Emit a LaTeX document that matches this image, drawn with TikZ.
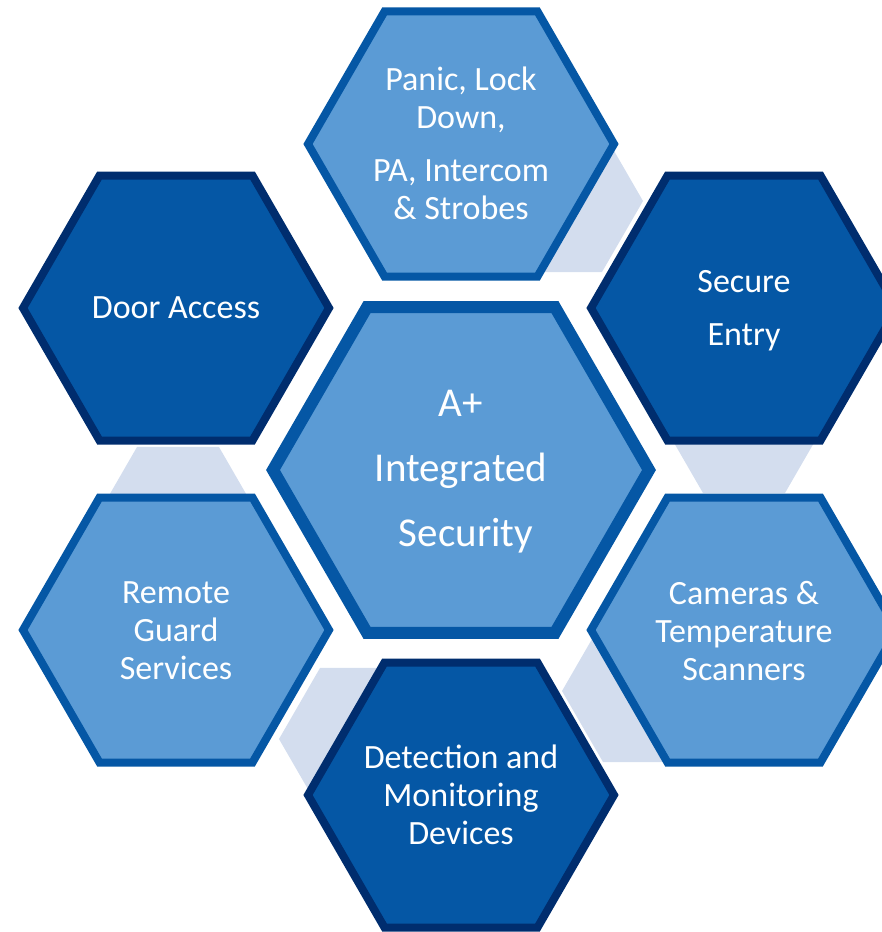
\documentclass[tikz,border=0pt]{standalone}
\usepackage{fontspec}
\setmainfont{Carlito}
\definecolor{lightfill}{HTML}{5B9BD5}
\definecolor{midblue}{HTML}{0557A5}
\definecolor{darkedge}{HTML}{002D6E}
\definecolor{grayhex}{HTML}{D3DDEE}
\tikzset{
  hexlight/.style={fill=lightfill, draw=midblue, line width=8pt, line join=miter},
  hexdark/.style={fill=midblue, draw=darkedge, line width=8pt, line join=miter},
  hexcenter/.style={fill=lightfill, draw=midblue, line width=12pt, line join=miter},
  hexgray/.style={fill=grayhex, draw=none},
  lbl/.style={text=white, align=center, inner sep=0pt, font=\fontsize{34}{38}\selectfont},
  lblbig/.style={text=white, align=center, inner sep=0pt, font=\fontsize{41}{65}\selectfont}
}
\begin{document}
\begin{tikzpicture}[x=1pt,y=-1pt]
\useasboundingbox (0,0) rectangle (882,932);
% named centres
\coordinate (cP) at (461,144);
\coordinate (cS) at (744,308);
\coordinate (cC) at (744,630);
\coordinate (cD) at (461,795);
\coordinate (cR) at (176,630);
\coordinate (cA) at (176,308);
\coordinate (cM) at (461,470);
% light connector hexagons
\foreach \p in {(561,201),(744,422),(644,691),(361,739),(178,518)}{
  \draw[hexgray] \p +(0:82) -- +(60:82) -- +(120:82) -- +(180:82) -- +(240:82) -- +(300:82) -- cycle;
}
% outer hexagons
\draw[hexlight] (cP) +(0:153) -- +(60:153) -- +(120:153) -- +(180:153) -- +(240:153) -- +(300:153) -- cycle;
\draw[hexdark]  (cS) +(0:153) -- +(60:153) -- +(120:153) -- +(180:153) -- +(240:153) -- +(300:153) -- cycle;
\draw[hexlight] (cC) +(0:153) -- +(60:153) -- +(120:153) -- +(180:153) -- +(240:153) -- +(300:153) -- cycle;
\draw[hexdark]  (cD) +(0:153) -- +(60:153) -- +(120:153) -- +(180:153) -- +(240:153) -- +(300:153) -- cycle;
\draw[hexlight] (cR) +(0:153) -- +(60:153) -- +(120:153) -- +(180:153) -- +(240:153) -- +(300:153) -- cycle;
\draw[hexdark]  (cA) +(0:153) -- +(60:153) -- +(120:153) -- +(180:153) -- +(240:153) -- +(300:153) -- cycle;
% centre hexagon
\draw[hexcenter] (cM) +(0:188) -- +(60:188) -- +(120:188) -- +(180:188) -- +(240:188) -- +(300:188) -- cycle;
% labels
\node[lbl] (panic) at (461,143) {Panic, Lock\\Down,\\[15pt]PA, Intercom\\\& Strobes};
\node[lbl] (secure) at (744,311) {Secure\\[15pt]Entry};
\node[lbl] (cameras) at (744,631) {Cameras \&\\Temperature\\Scanners};
\node[lbl] (detect) at (461,795) {Detection and\\Monitoring\\Devices};
\node[lbl] (remote) at (176,631) {Remote\\Guard\\Services};
\node[lbl] (door) at (176,308) {Door Access};
\node[lblbig] (centre) at (461,472) {A+\\Integrated\\\hspace*{10pt}Security};
\end{tikzpicture}
\end{document}
